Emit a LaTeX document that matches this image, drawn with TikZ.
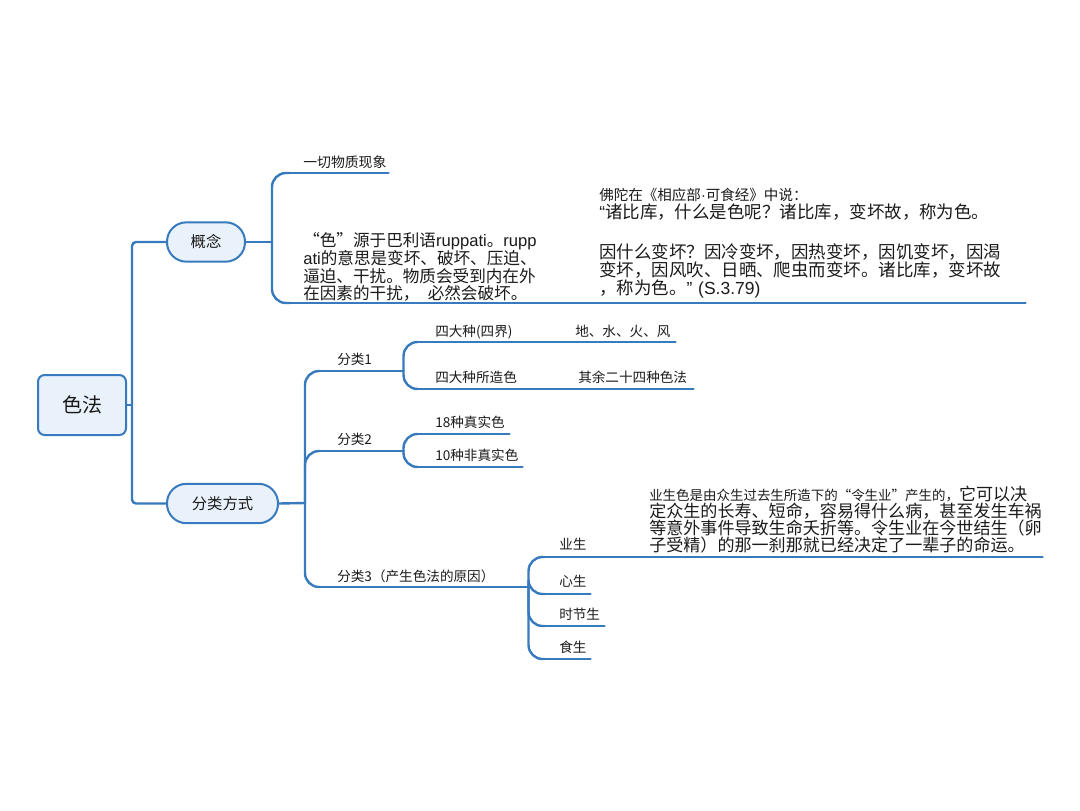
\documentclass[tikz,border=0pt]{standalone}
\usepackage{fontspec}
\setmainfont{Noto Sans CJK SC}
\newfontfamily\latfont{Liberation Sans}
\definecolor{lineblue}{RGB}{56,122,190}
\definecolor{nodefill}{RGB}{233,241,250}
\definecolor{txt}{RGB}{26,26,26}
\begin{document}
\begin{tikzpicture}[x=0.75pt,y=-0.75pt,
  conn/.style={draw=lineblue,line width=1.8pt,line cap=round},
  fork/.style={conn,rounded corners=10.5pt},
  rootbox/.style={draw=lineblue,line width=1.5pt,fill=nodefill,rounded corners=5pt,
    minimum width=66pt,minimum height=45pt,text=txt,font=\fontsize{15pt}{18pt}\selectfont},
  pill/.style={draw=lineblue,line width=1.5pt,fill=nodefill,rounded corners=14.5pt,
    minimum height=29.5pt,inner sep=0pt,text=txt,font=\fontsize{11.5pt}{13pt}\selectfont},
  lbl/.style={anchor=south west,inner sep=0pt,align=left,text=txt,font=\fontsize{10.2pt}{12pt}\selectfont},
  blk/.style={anchor=south west,inner sep=0pt,align=left,text=txt}]
\useasboundingbox (0,0) rectangle (1080,810);

% main nodes
\node[rootbox] (R) at (82,405) {色法};
\node[pill,minimum width=58.5pt] (C1) at (206,242) {概念};
\node[pill,minimum width=83.25pt] (C2) at (222.5,503.5) {分类方式};

% concept branch
\node[lbl,text width=73.5pt,text depth=3.75pt,font=\fontsize{10.4pt}{12pt}\selectfont] (K1) at (290,173) {\hspace*{9.75pt}一切物质现象};
\node[blk,text width=210pt,font={\fontsize{12.45pt}{13.3pt}\selectfont\lineskiplimit-20pt}] (K2) at (290,303)
 {\hspace*{9.75pt}“色”源于巴利语{\latfont ruppati}。{\latfont rupp}\\
  \hspace*{9.75pt}{\latfont ati}的意思是变坏、破坏、压迫、\\
  \hspace*{9.75pt}逼迫、干扰。物质会受到内在外\\
  \hspace*{9.75pt}在因素的干扰，\hspace{0.5em}必然会破坏。\rule[-2.25pt]{0pt}{0pt}};
\node[blk,text width=341.25pt,font={\fontsize{13.1pt}{13.5pt}\selectfont\lineskiplimit-20pt}] (K3) at (570,303)
 {\hspace*{21.75pt}{\fontsize{10.9pt}{13.5pt}\selectfont 佛陀在《相应部{\latfont ·}可食经》中说：}\\
  \hspace*{21.75pt}{\latfont “}诸比库，什么是色呢？诸比库，变坏故，称为色。\\[16.5pt]
  \hspace*{21.75pt}因什么变坏？因冷变坏，因热变坏，因饥变坏，因渴\\
  \hspace*{21.75pt}变坏，因风吹、日晒、爬虫而变坏。诸比库，变坏故\\
  \hspace*{21.75pt}，称为色。{\latfont ” (S.3.79)}\rule[-6.3pt]{0pt}{0pt}};

% classification branch
\node[lbl,text width=62.25pt,text depth=4.5pt] (F1) at (320,371) {\hspace*{12.75pt}分类1};
\node[lbl,text width=62.25pt,text depth=4.5pt] (F2) at (320,451) {\hspace*{12.75pt}分类2};
\node[lbl,text width=156pt,text depth=3.75pt] (F3) at (320,587) {\hspace*{12.75pt}分类3（产生色法的原因）};

\node[lbl,text width=96pt,text depth=3.75pt] (A1) at (417,342) {\hspace*{13.5pt}四大种(四界)};
\node[lbl,text width=97.5pt,text depth=3.75pt] (A1a) at (545,342) {\hspace*{22.5pt}地、水、火、风};
\node[lbl,text width=99.75pt,text depth=4.5pt] (A2) at (417,389) {\hspace*{13.5pt}四大种所造色};
\node[lbl,text width=107.25pt,text depth=4.5pt] (A2a) at (550,389) {\hspace*{21pt}其余二十四种色法};

\node[lbl,text width=69pt,text depth=4.5pt] (B1) at (417,434) {\hspace*{13.5pt}18种真实色};
\node[lbl,text width=78.75pt,text depth=4.5pt] (B2) at (417,467) {\hspace*{13.5pt}10种非真实色};

\node[lbl,text width=56.25pt,text depth=5.25pt] (D1) at (545,557) {\hspace*{10.5pt}业生};
\node[blk,text width=316.5pt,font={\fontsize{12.8pt}{12.8pt}\selectfont\lineskiplimit-20pt}] (D1a) at (620,557)
 {\hspace*{21.75pt}{\fontsize{10.1pt}{12.8pt}\selectfont 业生色是由众生过去生所造下的“令生业”产生的，}它可以决\\
  \hspace*{21.75pt}定众生的长寿、短命，容易得什么病，甚至发生车祸\\
  \hspace*{21.75pt}等意外事件导致生命夭折等。令生业在今世结生（卵\\
  \hspace*{21.75pt}子受精）的那一刹那就已经决定了一辈子的命运。\rule[-4.1pt]{0pt}{0pt}};
\node[lbl,text width=33.75pt,text depth=5.25pt] (D2) at (545,594) {\hspace*{10.5pt}心生};
\node[lbl,text width=44.25pt,text depth=4.5pt] (D3) at (545,626) {\hspace*{10.5pt}时节生};
\node[lbl,text width=33.75pt,text depth=4.5pt] (D4) at (545,659) {\hspace*{10.5pt}食生};

% underlines of the branch nodes
\foreach \n in {K1,K2,K3,F1,F2,F3,A1,A1a,A2,A2a,B1,B2,D1,D1a,D2,D3,D4}
  \draw[conn] (\n.south west) -- (\n.south east);

% connectors
\draw[conn] (R.east) -- (132,405) coordinate (rj);
\draw[conn,rounded corners=3pt] (rj) |- (C1.west);
\draw[conn,rounded corners=3pt] (rj) |- (C2.west);

\draw[conn] (C1.east) -- (272,242) coordinate (c1j);
\draw[fork] (c1j) |- (K1.south west);
\draw[fork] (c1j) |- (K2.south west);
\draw[conn] (K2.south east) -- (K3.south west);

\draw[conn] (C2.east) -- (305,503) coordinate (c2j);
\draw[fork] (c2j) |- (F1.south west);
\draw[fork] (c2j) |- (F2.south west);
\draw[fork] (c2j) |- (F3.south west);

\draw[fork] (F1.south east) |- (A1.south west);
\draw[fork] (F1.south east) |- (A2.south west);
\draw[conn] (A1.south east) -- (A1a.south west);
\draw[conn] (A2.south east) -- (A2a.south west);

\draw[fork] (F2.south east) |- (B1.south west);
\draw[fork] (F2.south east) |- (B2.south west);

\draw[fork] (F3.south east) |- (D1.south west);
\draw[fork] (F3.south east) |- (D2.south west);
\draw[fork] (F3.south east) |- (D3.south west);
\draw[fork] (F3.south east) |- (D4.south west);
\draw[conn] (D1.south east) -- (D1a.south west);
\end{tikzpicture}
\end{document}
